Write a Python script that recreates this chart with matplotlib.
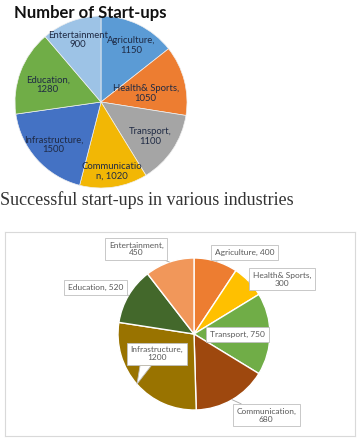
import numpy as np
import matplotlib
matplotlib.use('Agg')
import matplotlib.pyplot as plt
from matplotlib.patches import Polygon

# top chart: number of start-ups
top_names = ['Agriculture', 'Health& Sports', 'Transport', 'Communication',
             'Infrastructure', 'Education', 'Entertainment']
top_values = [1150, 1050, 1100, 1020, 1500, 1280, 900]
top_text = ['Agriculture,\n1150', 'Health& Sports,\n1050', 'Transport,\n1100',
            'Communicatio\nn, 1020', 'Infrastructure,\n1500', 'Education,\n1280',
            'Entertainment\n900']
top_colors = ['#5B9BD5', '#ED7D31', '#A5A5A5', '#F2B705', '#4472C4', '#70AD47', '#9DC3E6']

# bottom chart: successful start-ups
bot_names = top_names
bot_values = [400, 300, 750, 680, 1200, 520, 450]
bot_text = ['Agriculture, 400', 'Health& Sports,\n300', 'Transport, 750',
            'Communication,\n680', 'Infrastructure,\n1200', 'Education, 520',
            'Entertainment,\n450']
bot_colors = ['#ED7D31', '#FFC000', '#70AD47', '#9E480E', '#997300', '#43682B', '#F1975A']

W, H = 358, 438
fig = plt.figure(figsize=(W/100, H/100), dpi=100)
fig.patch.set_facecolor('white')

def px_axes(x0, y0, x1, y1):
    # axes from pixel box (top-left origin)
    return fig.add_axes([x0/W, 1 - y1/H, (x1-x0)/W, (y1-y0)/H])

#top pie
cx, cy, R = 101, 102, 86
ax1 = px_axes(cx-R, cy-R, cx+R, cy+R)
ax1.pie(top_values, colors=top_colors, startangle=90, counterclock=False,
        wedgeprops=dict(edgecolor='#f0f0f0', linewidth=0.5))
ax1.set_aspect('auto')
ax1.set_xlim(-1, 1)
ax1.set_ylim(-1, 1)
ax1.axis('off')
top_pos = [(0.35, 0.66), (0.52, 0.10), (0.57, -0.40), (0.13, -0.81),
           (-0.55, -0.50), (-0.62, 0.20), (-0.27, 0.72)]
for t, (x, y) in zip(top_text, top_pos):
    ax1.text(x, y, t, ha='center', va='center', fontsize=6.8, family='Lato',
             color='#1f2a44', linespacing=1.1, clip_on=False)

fig.text(14/W, 1 - 13/H, 'Number of Start-ups', ha='left', va='center',
         fontsize=12, fontweight='bold', family='Lato', color='#111111')

fig.text(0/W, 1 - 200/H, 'Successful start-ups in various industries', ha='left',
         va='center', fontsize=13, family='Liberation Serif', color='#333333')

#bottom pie in a bordered box
bx0, by0, bx1, by1 = 5, 232, 355, 436
cx, cy, R = 194, 334, 76
ax2 = px_axes(bx0, by0, bx1, by1)
wedges, _ = ax2.pie(bot_values, colors=bot_colors, startangle=90, counterclock=False,
                    wedgeprops=dict(edgecolor='white', linewidth=1.0))
ax2.set_aspect('auto')
ax2.set_xlim((bx0-cx)/R, (bx1-cx)/R)
ax2.set_ylim((cy-by1)/R, (cy-by0)/R)
ax2.set_frame_on(True)
for s in ax2.spines.values():
    s.set_color('#d9d9d9')
    s.set_linewidth(0.8)
ax2.set_xticks([])
ax2.set_yticks([])

bot_pos = [(0.67, 1.07), (1.16, 0.72), (0.57, -0.01), (0.95, -1.07),
           (-0.49, -0.26), (-1.30, 0.61), (-0.76, 1.12)]
for i, (t, (x, y)) in enumerate(zip(bot_text, bot_pos)):
    w = wedges[i]
    mid = np.deg2rad((w.theta1 + w.theta2) / 2)
    edge = (np.cos(mid), np.sin(mid))
    box = dict(boxstyle='square,pad=0.45', fc='white', ec='#bfbfbf', lw=0.6)
    if bot_names[i] in ('Transport', 'Infrastructure'):
        ax2.text(x, y, t, ha='center', va='center', fontsize=6, family='Lato',
                 color='#595959', linespacing=1.1, bbox=box)
    else:
        ax2.annotate(t, xy=edge, xytext=(x, y), ha='center', va='center',
                     fontsize=6, family='Lato', color='#595959', linespacing=1.1,
                     bbox=box, arrowprops=dict(arrowstyle='-', color='#a6a6a6', lw=0.6,
                                               shrinkA=0, shrinkB=0))

# callout pointer for infrastructure
p1 = ((140-cx)/R, (cy-366)/R)
p2 = ((151-cx)/R, (cy-366)/R)
tip = ((137-cx)/R, (cy-384)/R)
ax2.add_patch(Polygon([p1, p2, tip], closed=True, fc='white', ec='none', zorder=5))
ax2.plot([p1[0], tip[0], p2[0]], [p1[1], tip[1], p2[1]], color='#bfbfbf', lw=0.6, zorder=6)

fig.savefig('out.png', dpi=100)
